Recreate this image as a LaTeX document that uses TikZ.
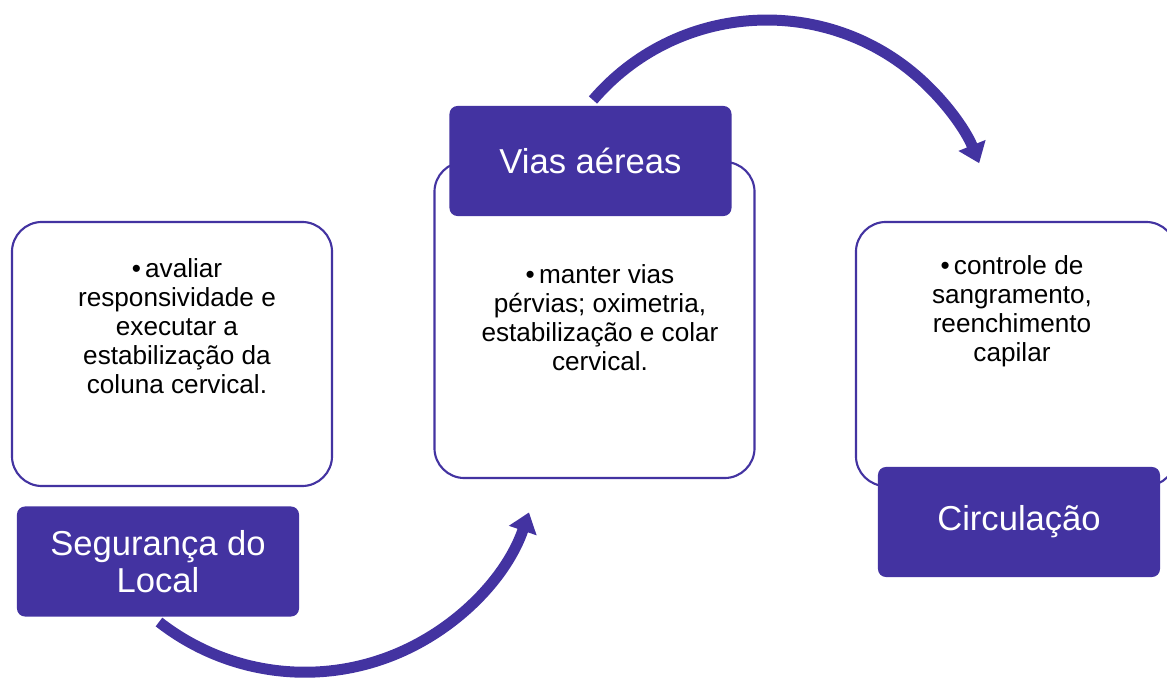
\documentclass[tikz,border=0pt]{standalone}
\usepackage{fontspec}
\setmainfont{Liberation Sans}
\usetikzlibrary{arrows.meta,positioning}
\definecolor{roxo}{RGB}{67,51,161}

\begin{document}
\begin{tikzpicture}[x=0.025cm, y=-0.025cm,
    card/.style={draw=roxo, line width=1.5pt, fill=white, rounded corners=0.75cm, minimum width=8cm, inner sep=0pt},
    head/.style={fill=roxo, rounded corners=0.2cm, minimum width=7.05cm, minimum height=2.75cm, inner sep=0pt, text=white, align=center, font=\fontsize{24.6}{26.3}\selectfont},
    body/.style={align=center, inner sep=0pt, font=\fontsize{18.6}{20.6}\selectfont},
    seta/.style={draw=roxo, line width=7.8pt, -{Triangle[length=0.48cm, width=0.7cm]}}
]
\clip (0,0) rectangle (1167,681);

\node[card, minimum height=6.6cm] (c1) at (172,354) {};
\node[card, minimum height=7.9cm] (c2) at (594.5,320) {};
\node[card, minimum height=6.6cm] (c3) at (1016,354) {};

\node[body] (t1) at (177,326) {\textbullet\hspace{3pt}avaliar\\responsividade e\\executar a\\estabilização da\\coluna cervical.};
\node[body] (t2) at (600,318) {\textbullet\hspace{3pt}manter vias\\pérvias; oximetria,\\estabilização e colar\\cervical.};
\node[body] (t3) at (1012,311) {\textbullet\hspace{3pt}controle de\\sangramento,\\reenchimento\\capilar};

\node[head] (h1) at (158,561.5) {Segurança do\\Local};
\node[head] (h2) at (590.5,161) {Vias aéreas};
\node[head] (h3) at (1019,522) {Circulação};

% setas curvas entre as etapas
\coordinate (a1) at (159,622);
\coordinate (a2) at (593,100);
\draw[seta] (a1) arc[start angle=128, end angle=19, radius=237];
\draw[seta] (a2) arc[start angle=-139.4, end angle=-22, radius=229];
\end{tikzpicture}
\end{document}
